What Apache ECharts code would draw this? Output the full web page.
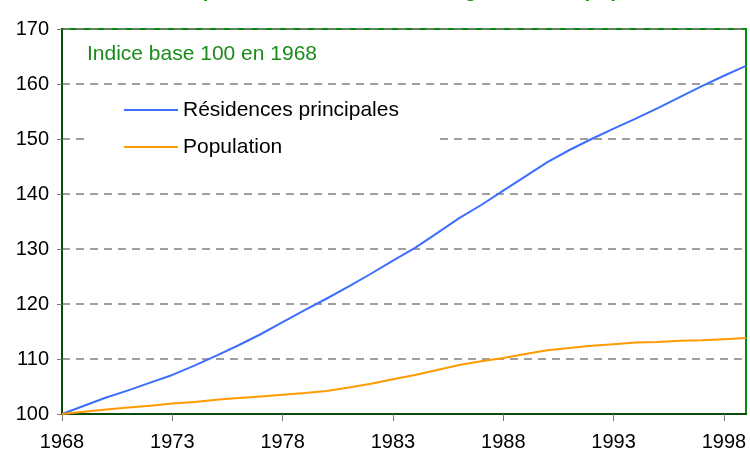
<!DOCTYPE html>
<html>
<head>
<meta charset="utf-8">
<script src="https://cdn.jsdelivr.net/npm/echarts@6/dist/echarts.min.js"></script>
<style>
  html, body { margin: 0; padding: 0; background: #fff; }
  #chart { width: 750px; height: 453px; }
</style>
</head>
<body>
<div id="chart"></div>
<script>
// années 1968 -> 1999
const years = ['1968','1969','1970','1971','1972','1973','1974','1975','1976','1977',
  '1978','1979','1980','1981','1982','1983','1984','1985','1986','1987',
  '1988','1989','1990','1991','1992','1993','1994','1995','1996','1997','1998','1999']

// indice base 100 en 1968
const residences = [100, 101.5, 103.0, 104.3, 105.7, 107.1, 108.8, 110.6, 112.5, 114.5,
  116.7, 118.9, 121.0, 123.2, 125.5, 127.9, 130.2, 132.9, 135.6, 138.0,
  140.6, 143.2, 145.8, 148.0, 150.0, 151.9, 153.7, 155.6, 157.6, 159.6, 161.5, 163.3]

const population = [100, 100.4, 100.8, 101.2, 101.5, 101.9, 102.2, 102.6, 102.9, 103.2,
  103.5, 103.8, 104.2, 104.8, 105.5, 106.3, 107.1, 108.0, 108.9, 109.6,
  110.2, 110.9, 111.6, 112.0, 112.4, 112.7, 113.0, 113.1, 113.3, 113.4, 113.6, 113.8]

const font = '"Liberation Sans", Arial, sans-serif'

const chart = echarts.init(document.getElementById('chart'))
chart.setOption({
  animation: false,
  textStyle: { fontFamily: font },
  // titre coupé en haut de l'image, seules les jambages dépassent
  title: {
    text: 'Evolution comparée du nombre de ménages et de la population',
    left: 'center',
    top: -24,
    textStyle: { color: '#119911', fontSize: 21, fontWeight: 'bold', fontFamily: font }
  },
  grid: {
    left: 62, right: 4, top: 29, bottom: 39,
    show: true,
    borderColor: '#0a8a0a',
    borderWidth: 2,
    backgroundColor: 'transparent'
  },
  legend: {
    orient: 'vertical',
    left: 85,
    top: 94,
    padding: [5, 40, 6, 39],
    backgroundColor: '#fff',
    icon: 'rect',
    itemWidth: 54,
    itemHeight: 2,
    itemGap: 15,
    textStyle: { fontSize: 21, lineHeight: 22, color: '#000', fontFamily: font },
    data: ['Résidences principales', 'Population']
  },
  graphic: [{
    type: 'text',
    left: 87,
    top: 44,
    style: { text: 'Indice base 100 en 1968', fill: '#1a8c1a', font: '21px ' + font }
  }],
  xAxis: {
    type: 'category',
    data: years,
    boundaryGap: false,
    axisLine: { lineStyle: { color: '#0a4a0a', width: 2 } },
    axisTick: { interval: 4, length: 7, lineStyle: { color: '#777' } },
    axisLabel: { interval: 4, color: '#000', fontSize: 20, margin: 18 },
    splitLine: { show: false }
  },
  yAxis: {
    type: 'value',
    min: 100,
    max: 170,
    interval: 10,
    axisLine: { show: true, lineStyle: { color: '#0a4a0a', width: 2 } },
    axisTick: { show: true, inside: false, length: 5, lineStyle: { color: '#777' } },
    axisLabel: { color: '#000', fontSize: 20, margin: 13 },
    splitLine: { lineStyle: { color: '#808080', type: [8, 6], width: 1.5 } }
  },
  series: [
    {
      name: 'Résidences principales',
      type: 'line',
      data: residences,
      symbol: 'none',
      lineStyle: { color: '#3d6eff', width: 2 },
      itemStyle: { color: '#3d6eff' }
    },
    {
      name: 'Population',
      type: 'line',
      data: population,
      symbol: 'none',
      lineStyle: { color: '#ff9a00', width: 2 },
      itemStyle: { color: '#ff9a00' }
    }
  ]
})
</script>
</body>
</html>
